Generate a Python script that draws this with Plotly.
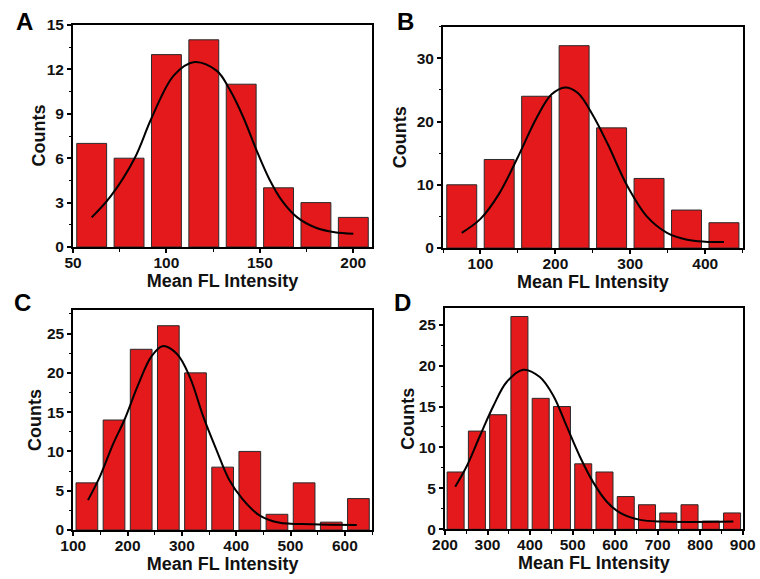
import plotly.graph_objects as go

W, H = 760, 579

# ---------------- data ----------------
a_bins = [60, 80, 100, 120, 140, 160, 180, 200]
a_counts = [7, 6, 13, 14, 11, 4, 3, 2]
a_fit_x = [60, 70, 83, 92, 104, 115, 127, 134, 141, 148, 155, 162, 170, 180, 190, 200]
a_fit_y = [2.0, 3.4, 6.0, 8.7, 11.6, 12.5, 11.9, 10.6, 8.8, 6.6, 4.6, 3.1, 2.0, 1.3, 1.0, 0.9]

b_bins = [75, 125, 175, 225, 275, 325, 375, 425]
b_counts = [10, 14, 24, 32, 19, 11, 6, 4]
b_fit_x = [75, 100, 125, 150, 175, 195, 213, 230, 250, 270, 296, 322, 349, 376, 400, 425]
b_fit_y = [2.4, 4.6, 8.6, 14.4, 20.6, 24.3, 25.4, 24.5, 21.0, 16.4, 9.8, 5.0, 2.4, 1.3, 1.0, 0.95]

c_bins = [125, 175, 225, 275, 325, 375, 425, 475, 525, 575, 625]
c_counts = [6, 14, 23, 26, 20, 8, 10, 2, 6, 1, 4]
c_fit_x = [127, 149, 173, 194, 219, 243, 264, 291, 315, 339, 363, 387, 412, 442, 478, 539, 622]
c_fit_y = [3.8, 6.8, 10.9, 14.0, 18.4, 22.0, 23.4, 22.4, 19.4, 14.5, 10.3, 6.4, 3.9, 1.9, 0.95, 0.73, 0.65]

d_bins = [225, 275, 325, 375, 425, 475, 525, 575, 625, 675, 725, 775, 825, 875]
d_counts = [7, 12, 14, 26, 16, 15, 8, 7, 4, 3, 2, 3, 1, 2]
d_fit_x = [224, 251, 282, 314, 345, 384, 423, 455, 486, 517, 549, 580, 612, 659, 713, 878]
d_fit_y = [5.2, 7.7, 11.4, 15.1, 18.0, 19.5, 18.6, 16.3, 12.6, 8.9, 5.7, 3.4, 2.0, 1.15, 0.94, 0.94]

panel_letters = ["A", "B", "C", "D"]
x_title = "Mean FL Intensity"
y_title = "Counts"

# ---------------- styling / layout ----------------
BAR_COLOR = "#E3191C"
FONT = "Liberation Sans, Arial, sans-serif"

panels = [
    dict(bins=a_bins, counts=a_counts, fx=a_fit_x, fy=a_fit_y, width=16,
         xr=[50, 210], xt=[50, 100, 150, 200], xminor=25, yr=[0, 15], ydt=3, yminor=1.5,
         px=(73, 372), py=(25, 247), ytx=38.5),
    dict(bins=b_bins, counts=b_counts, fx=b_fit_x, fy=b_fit_y, width=40,
         xr=[50, 450], xt=[100, 200, 300, 400], xminor=50, yr=[0, 35], ydt=10, yminor=5,
         px=(443, 742.7), py=(26.7, 248), ytx=400),
    dict(bins=c_bins, counts=c_counts, fx=c_fit_x, fy=c_fit_y, width=40,
         xr=[100, 650], xt=[100, 200, 300, 400, 500, 600], xminor=50, yr=[0, 28], ydt=5, yminor=2.5,
         px=(73.3, 372), py=(310, 530), ytx=35),
    dict(bins=d_bins, counts=d_counts, fx=d_fit_x, fy=d_fit_y, width=40,
         xr=[200, 900], xt=[200, 300, 400, 500, 600, 700, 800, 900], xminor=50, yr=[0, 27], ydt=5, yminor=2.5,
         px=(445, 742.7), py=(308.3, 529.3), ytx=408),
]
letter_pos = [(24, 22), (405, 22), (22, 302), (402, 302)]

fig = go.Figure()
layout = dict(
    width=W, height=H, margin=dict(l=0, r=0, t=0, b=0, autoexpand=False),
    paper_bgcolor="white", plot_bgcolor="white", showlegend=False,
    font=dict(family=FONT, color="#111"),
)
annotations = []

for i, p in enumerate(panels):
    n = "" if i == 0 else str(i + 1)
    xa, ya = "x" + n, "y" + n
    fig.add_trace(go.Bar(
        x=p["bins"], y=p["counts"], width=p["width"], xaxis=xa, yaxis=ya,
        marker=dict(color=BAR_COLOR, line=dict(color="#2a2a2a", width=1)),
    ))
    fig.add_trace(go.Scatter(
        x=p["fx"], y=p["fy"], mode="lines", xaxis=xa, yaxis=ya,
        line=dict(color="black", width=2, shape="spline", smoothing=1.0),
    ))
    common = dict(
        showline=True, linewidth=2, linecolor="black", mirror=True,
        ticks="outside", ticklen=4, tickwidth=1.5, tickcolor="black",
        showgrid=False, zeroline=False, automargin=False,
        tickfont=dict(family=FONT, size=15.5, color="#111", weight="bold"),
    )
    layout["xaxis" + n] = dict(
        common, domain=[p["px"][0] / W, p["px"][1] / W], anchor=ya, range=p["xr"],
        tickvals=p["xt"], ticklabelstandoff=-4,
        minor=dict(ticks="outside", ticklen=2.5, tickwidth=1, tickcolor="black",
                   dtick=p["xminor"], tick0=0, showgrid=False),
        title=dict(text=x_title, standoff=3,
                   font=dict(family=FONT, size=18, color="#111", weight="bold")),
    )
    layout["yaxis" + n] = dict(
        common, domain=[1 - p["py"][1] / H, 1 - p["py"][0] / H], anchor=xa, range=p["yr"],
        dtick=p["ydt"], tick0=0,
        minor=dict(ticks="outside", ticklen=2.5, tickwidth=1, tickcolor="black",
                   dtick=p["yminor"], tick0=0, showgrid=False),
    )
    # y-axis title placed precisely as rotated text
    annotations.append(dict(
        text=y_title, textangle=-90, x=p["ytx"] / W,
        y=1 - (p["py"][0] + p["py"][1]) / 2 / H, xref="paper", yref="paper",
        showarrow=False, xanchor="center", yanchor="middle",
        font=dict(family=FONT, size=18, color="#111", weight="bold"),
    ))
    lx, ly = letter_pos[i]
    annotations.append(dict(
        text=panel_letters[i], x=lx / W, y=1 - ly / H, xref="paper", yref="paper",
        showarrow=False, xanchor="center", yanchor="middle",
        font=dict(family=FONT, size=24, color="black", weight="bold"),
    ))

layout["annotations"] = annotations
fig.update_layout(**layout)
fig.write_html("out.html")
